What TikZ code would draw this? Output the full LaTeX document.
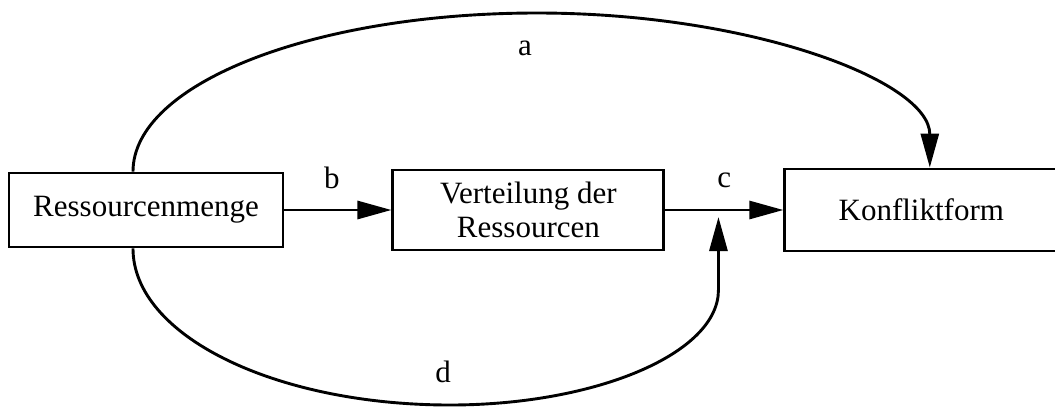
\documentclass[tikz,border=0pt]{standalone}
\usepackage{fontspec}
\setmainfont{Liberation Serif}
\usepackage{tikz}
\usetikzlibrary{arrows.meta,positioning,calc}

\begin{document}
\begin{tikzpicture}[>={Triangle[length=17pt,width=9pt]}, black, line width=1.45pt,
	every node/.style={font=\fontsize{15.5}{17}\selectfont},
	blockbox/.style 2 args={rectangle, draw, line width=1.45pt, inner sep=0pt,
	                        minimum width=#1, minimum height=#2, align=center},
	edgelabel/.style={inner sep=0pt}]
	\useasboundingbox (0,0) rectangle (527.5pt,-204pt);

	%% Boxes
	\node [blockbox={137pt}{37pt}] (menge) at (73pt,-105pt) {Ressourcenmenge};
	\node [blockbox={135.5pt}{40pt},right=53.5pt of menge] (verteilung) {Verteilung der\\Ressourcen};
	\node [blockbox={136.5pt}{41pt},right=59pt of verteilung] (konflikt) {Konfliktform};

	%% Reference points for the arcs
	\coordinate (atop) at (268.5pt,-6.5pt);
	\coordinate (dbot) at (225pt,-202.5pt);
	\coordinate (dend) at ($(verteilung.east)!0.45!(konflikt.west)+(0,-3.5pt)$);

	%% Straight paths
	\draw[->] (menge) -- (verteilung)
	          node[edgelabel,above=10pt,midway,xshift=-3pt] {b};
	\draw[->] (verteilung) -- (konflikt)
	          node[edgelabel,above=10.5pt,midway] {c};

	%% Arcs
	\draw[->] ([xshift=-6.5pt]menge.north) .. controls +(0,44pt) and +(-111.5pt,0) .. (atop)
	          node[edgelabel,below=13pt,xshift=-6pt] {a}
	          .. controls +(106.8pt,0) and +(0,43.3pt) .. ([xshift=4.25pt]konflikt.north);
	\draw[->] ([xshift=-6.5pt]menge.south) .. controls +(0,-43.6pt) and +(-87.5pt,0) .. (dbot)
	          node[edgelabel,above=10.5pt,xshift=-3.5pt] {d}
	          .. controls +(72.9pt,0) and +(0,-31.7pt) .. ([yshift=-36.5pt]dend) -- (dend);
\end{tikzpicture}
\end{document}
